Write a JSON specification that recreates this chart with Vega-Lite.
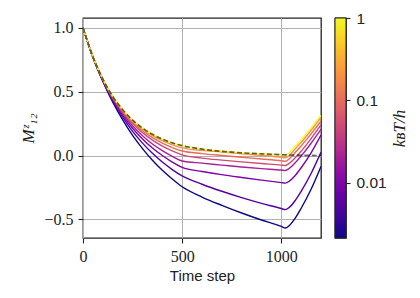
{
 "$schema": "https://vega.github.io/schema/vega-lite/v6.json",
 "padding": {"left": 19, "top": 10, "right": 0, "bottom": 0},
 "spacing": 11,
 "datasets": {
  "sim": [
   {"T":0.00215,"t":0,"m":1},{"T":0.00215,"t":50,"m":0.768},{"T":0.00215,"t":100,"m":0.58},{"T":0.00215,"t":150,"m":0.418},{"T":0.00215,"t":200,"m":0.279},{"T":0.00215,"t":250,"m":0.158},{"T":0.00215,"t":300,"m":0.054},{"T":0.00215,"t":350,"m":-0.037},{"T":0.00215,"t":400,"m":-0.116},{"T":0.00215,"t":450,"m":-0.184},{"T":0.00215,"t":500,"m":-0.245},{"T":0.00215,"t":600,"m":-0.325},{"T":0.00215,"t":700,"m":-0.39},{"T":0.00215,"t":800,"m":-0.45},{"T":0.00215,"t":900,"m":-0.505},{"T":0.00215,"t":1000,"m":-0.555},{"T":0.00215,"t":1020,"m":-0.568},{"T":0.00215,"t":1040,"m":-0.549},{"T":0.00215,"t":1070,"m":-0.491},{"T":0.00215,"t":1100,"m":-0.413},{"T":0.00215,"t":1150,"m":-0.264},{"T":0.00215,"t":1200,"m":-0.085},
   {"T":0.005,"t":0,"m":1},{"T":0.005,"t":50,"m":0.769},{"T":0.005,"t":100,"m":0.585},{"T":0.005,"t":150,"m":0.43},{"T":0.005,"t":200,"m":0.3},{"T":0.005,"t":250,"m":0.189},{"T":0.005,"t":300,"m":0.097},{"T":0.005,"t":350,"m":0.017},{"T":0.005,"t":400,"m":-0.051},{"T":0.005,"t":450,"m":-0.11},{"T":0.005,"t":500,"m":-0.16},{"T":0.005,"t":600,"m":-0.225},{"T":0.005,"t":700,"m":-0.28},{"T":0.005,"t":800,"m":-0.33},{"T":0.005,"t":900,"m":-0.375},{"T":0.005,"t":1000,"m":-0.415},{"T":0.005,"t":1020,"m":-0.424},{"T":0.005,"t":1040,"m":-0.406},{"T":0.005,"t":1070,"m":-0.352},{"T":0.005,"t":1100,"m":-0.28},{"T":0.005,"t":1150,"m":-0.141},{"T":0.005,"t":1200,"m":0.025},
   {"T":0.01,"t":0,"m":1},{"T":0.01,"t":50,"m":0.771},{"T":0.01,"t":100,"m":0.589},{"T":0.01,"t":150,"m":0.439},{"T":0.01,"t":200,"m":0.317},{"T":0.01,"t":250,"m":0.214},{"T":0.01,"t":300,"m":0.13},{"T":0.01,"t":350,"m":0.059},{"T":0.01,"t":400,"m":0.0},{"T":0.01,"t":450,"m":-0.051},{"T":0.01,"t":500,"m":-0.093},{"T":0.01,"t":600,"m":-0.125},{"T":0.01,"t":700,"m":-0.15},{"T":0.01,"t":800,"m":-0.172},{"T":0.01,"t":900,"m":-0.193},{"T":0.01,"t":1000,"m":-0.212},{"T":0.01,"t":1020,"m":-0.216},{"T":0.01,"t":1040,"m":-0.201},{"T":0.01,"t":1070,"m":-0.156},{"T":0.01,"t":1100,"m":-0.096},{"T":0.01,"t":1150,"m":0.021},{"T":0.01,"t":1200,"m":0.16},
   {"T":0.02,"t":0,"m":1},{"T":0.02,"t":50,"m":0.772},{"T":0.02,"t":100,"m":0.592},{"T":0.02,"t":150,"m":0.446},{"T":0.02,"t":200,"m":0.329},{"T":0.02,"t":250,"m":0.233},{"T":0.02,"t":300,"m":0.155},{"T":0.02,"t":350,"m":0.09},{"T":0.02,"t":400,"m":0.038},{"T":0.02,"t":450,"m":-0.007},{"T":0.02,"t":500,"m":-0.043},{"T":0.02,"t":600,"m":-0.06},{"T":0.02,"t":700,"m":-0.075},{"T":0.02,"t":800,"m":-0.09},{"T":0.02,"t":900,"m":-0.103},{"T":0.02,"t":1000,"m":-0.114},{"T":0.02,"t":1020,"m":-0.117},{"T":0.02,"t":1040,"m":-0.101},{"T":0.02,"t":1070,"m":-0.056},{"T":0.02,"t":1100,"m":-0.004},{"T":0.02,"t":1150,"m":0.096},{"T":0.02,"t":1200,"m":0.205},
   {"T":0.05,"t":0,"m":1},{"T":0.05,"t":50,"m":0.773},{"T":0.05,"t":100,"m":0.595},{"T":0.05,"t":150,"m":0.453},{"T":0.05,"t":200,"m":0.341},{"T":0.05,"t":250,"m":0.25},{"T":0.05,"t":300,"m":0.179},{"T":0.05,"t":350,"m":0.121},{"T":0.05,"t":400,"m":0.074},{"T":0.05,"t":450,"m":0.036},{"T":0.05,"t":500,"m":0.005},{"T":0.05,"t":600,"m":-0.02},{"T":0.05,"t":700,"m":-0.036},{"T":0.05,"t":800,"m":-0.05},{"T":0.05,"t":900,"m":-0.063},{"T":0.05,"t":1000,"m":-0.075},{"T":0.05,"t":1020,"m":-0.078},{"T":0.05,"t":1040,"m":-0.062},{"T":0.05,"t":1070,"m":-0.018},{"T":0.05,"t":1100,"m":0.033},{"T":0.05,"t":1150,"m":0.132},{"T":0.05,"t":1200,"m":0.24},
   {"T":0.1,"t":0,"m":1},{"T":0.1,"t":50,"m":0.773},{"T":0.1,"t":100,"m":0.596},{"T":0.1,"t":150,"m":0.457},{"T":0.1,"t":200,"m":0.349},{"T":0.1,"t":250,"m":0.261},{"T":0.1,"t":300,"m":0.194},{"T":0.1,"t":350,"m":0.14},{"T":0.1,"t":400,"m":0.097},{"T":0.1,"t":450,"m":0.062},{"T":0.1,"t":500,"m":0.035},{"T":0.1,"t":600,"m":0.015},{"T":0.1,"t":700,"m":0.0},{"T":0.1,"t":800,"m":-0.014},{"T":0.1,"t":900,"m":-0.027},{"T":0.1,"t":1000,"m":-0.041},{"T":0.1,"t":1020,"m":-0.045},{"T":0.1,"t":1040,"m":-0.026},{"T":0.1,"t":1070,"m":0.024},{"T":0.1,"t":1100,"m":0.075},{"T":0.1,"t":1150,"m":0.169},{"T":0.1,"t":1200,"m":0.27},
   {"T":0.2,"t":0,"m":1},{"T":0.2,"t":50,"m":0.774},{"T":0.2,"t":100,"m":0.598},{"T":0.2,"t":150,"m":0.461},{"T":0.2,"t":200,"m":0.355},{"T":0.2,"t":250,"m":0.271},{"T":0.2,"t":300,"m":0.207},{"T":0.2,"t":350,"m":0.155},{"T":0.2,"t":400,"m":0.116},{"T":0.2,"t":450,"m":0.084},{"T":0.2,"t":500,"m":0.06},{"T":0.2,"t":600,"m":0.04},{"T":0.2,"t":700,"m":0.028},{"T":0.2,"t":800,"m":0.014},{"T":0.2,"t":900,"m":0.0},{"T":0.2,"t":1000,"m":-0.014},{"T":0.2,"t":1020,"m":-0.018},{"T":0.2,"t":1040,"m":0.001},{"T":0.2,"t":1070,"m":0.052},{"T":0.2,"t":1100,"m":0.103},{"T":0.2,"t":1150,"m":0.198},{"T":0.2,"t":1200,"m":0.3},
   {"T":1,"t":0,"m":1},{"T":1,"t":50,"m":0.774},{"T":1,"t":100,"m":0.599},{"T":1,"t":150,"m":0.463},{"T":1,"t":200,"m":0.359},{"T":1,"t":250,"m":0.277},{"T":1,"t":300,"m":0.215},{"T":1,"t":350,"m":0.166},{"T":1,"t":400,"m":0.129},{"T":1,"t":450,"m":0.099},{"T":1,"t":500,"m":0.077},{"T":1,"t":600,"m":0.05},{"T":1,"t":700,"m":0.033},{"T":1,"t":800,"m":0.021},{"T":1,"t":900,"m":0.013},{"T":1,"t":1000,"m":0.006},{"T":1,"t":1020,"m":0.003},{"T":1,"t":1040,"m":0.022},{"T":1,"t":1070,"m":0.072},{"T":1,"t":1100,"m":0.122},{"T":1,"t":1150,"m":0.215},{"T":1,"t":1200,"m":0.315}
  ],
  "ref": [
   {"t":0,"m":1},{"t":50,"m":0.774},{"t":100,"m":0.599},{"t":150,"m":0.463},{"t":200,"m":0.359},{"t":250,"m":0.277},{"t":300,"m":0.215},{"t":350,"m":0.166},{"t":400,"m":0.129},{"t":450,"m":0.099},{"t":500,"m":0.077},{"t":600,"m":0.05},{"t":700,"m":0.033},{"t":800,"m":0.021},{"t":900,"m":0.013},{"t":1000,"m":0.006},{"t":1100,"m":0.002},{"t":1200,"m":0.0}
  ]
 },
 "hconcat": [
  {
   "width": 238,
   "height": 220,
   "layer": [
    {
     "data": {"name": "sim"},
     "mark": {"type": "line", "interpolate": "monotone", "strokeWidth": 1.4, "clip": true},
     "encoding": {
      "x": {"field": "t", "type": "quantitative", "scale": {"domain": [0, 1200], "nice": false},
            "axis": {"values": [0, 500, 1000], "format": "d", "title": "Time step", "grid": true, "labelFont": "Liberation Serif", "labelFontSize": 16, "labelFlush": false, "labelPadding": 5, "titleFont": "Liberation Sans", "titleFontSize": 15, "titleFontWeight": "normal", "titlePadding": 4}},
      "y": {"field": "m", "type": "quantitative", "scale": {"domain": [-0.646, 1.077], "nice": false, "zero": false},
            "axis": {"values": [-0.5, 0, 0.5, 1], "format": ".1f", "title": "Mᶻ₁₂", "grid": true, "labelFont": "Liberation Serif", "labelFontSize": 16, "labelPadding": 5, "titleFont": "Liberation Serif", "titleFontStyle": "italic", "titleFontWeight": "normal", "titleFontSize": 17, "titlePadding": 6}},
      "color": {"field": "T", "type": "quantitative", "scale": {"type": "log", "scheme": "plasma", "domain": [0.00215, 1]}, "legend": null},
      "detail": {"field": "T", "type": "nominal"}
     }
    },
    {
     "data": {"name": "ref"},
     "mark": {"type": "line", "interpolate": "monotone", "color": "black", "opacity": 0.6, "strokeDash": [5, 2.5], "strokeWidth": 1.7, "clip": true},
     "encoding": {
      "x": {"field": "t", "type": "quantitative"},
      "y": {"field": "m", "type": "quantitative"}
     }
    }
   ]
  },
  {
   "width": 11,
   "height": 220,
   "data": {"values": [{"lo": 0.00215, "hi": 1}]},
   "mark": {"type": "rect", "stroke": "#222", "strokeWidth": 1,
     "color": {"gradient": "linear", "x1": 0, "y1": 1, "x2": 0, "y2": 0, "stops": [
      {"offset": 0, "color": "#0d0887"}, {"offset": 0.1, "color": "#41049d"}, {"offset": 0.2, "color": "#6a00a8"}, {"offset": 0.3, "color": "#8f0da4"}, {"offset": 0.4, "color": "#b12a90"}, {"offset": 0.5, "color": "#cc4778"}, {"offset": 0.6, "color": "#e16462"}, {"offset": 0.7, "color": "#f2844b"}, {"offset": 0.8, "color": "#fca636"}, {"offset": 0.9, "color": "#fcce25"}, {"offset": 1, "color": "#f0f921"}]}},
   "encoding": {
    "y": {"field": "lo", "type": "quantitative", "scale": {"type": "log", "domain": [0.00215, 1], "nice": false},
          "axis": {"orient": "right", "values": [0.01, 0.1, 1], "format": "~g", "grid": false, "tickSize": 4, "labelFont": "Liberation Sans", "labelFontSize": 15.5, "labelPadding": 6, "title": "kʙT/h", "titleFont": "Liberation Serif", "titleFontStyle": "italic", "titleFontWeight": "normal", "titleFontSize": 17, "titleAngle": 270, "titlePadding": 22}},
    "y2": {"field": "hi"}
   }
  }
 ],
 "config": {
  "view": {"stroke": "#222", "strokeWidth": 1.3},
  "axis": {"domain": false, "tickColor": "#222", "tickSize": 5, "tickWidth": 1.1, "gridColor": "#b0b0b0", "gridWidth": 1, "labelColor": "#222", "titleColor": "#222"}
 }
}
